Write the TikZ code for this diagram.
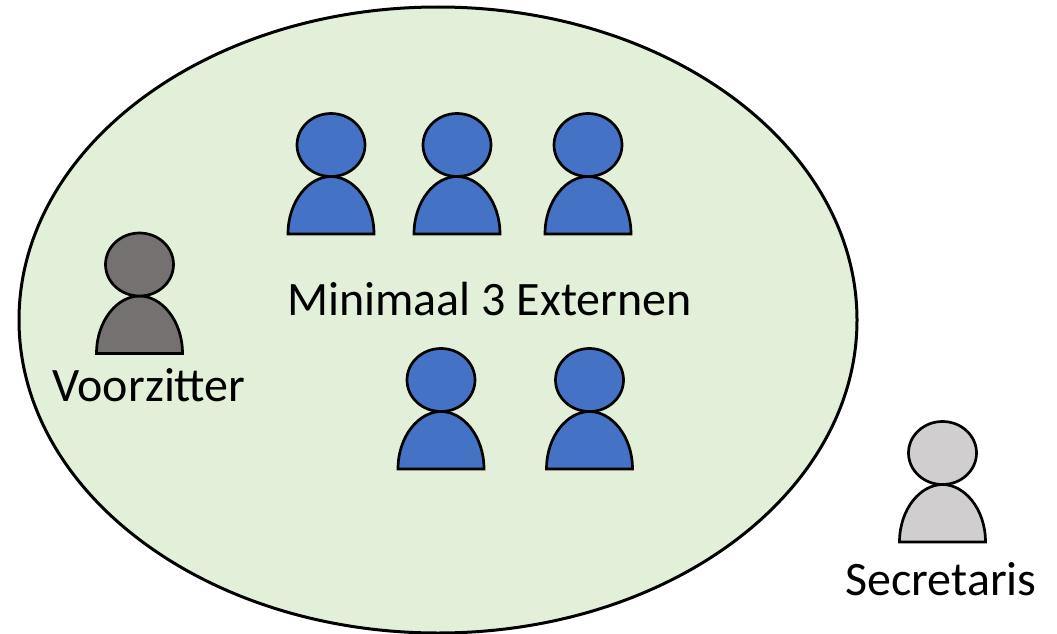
\documentclass[tikz,border=0pt]{standalone}
\usepackage{fontspec}
\usetikzlibrary{shapes.geometric}
\setmainfont{Carlito}
\definecolor{groen}{HTML}{E2F0D9}
\definecolor{blauw}{HTML}{4472C4}
\definecolor{donker}{HTML}{767171}
\definecolor{licht}{HTML}{D0CECE}
\tikzset{
  x=1pt,y=-1pt,
  persoon/.pic={
    \draw[pic actions,line width=2.7pt,line join=miter] (-43,0) .. controls (-43,-33) and (-22,-57.5) .. (0,-57.5) .. controls (22,-57.5) and (43,-33) .. (43,0) -- cycle;
    \draw[pic actions,line width=2.7pt] (0,-89) ellipse [x radius=34,y radius=31.5];
  },
  label text/.style={font=\fontsize{48}{58}\selectfont,text=black,inner sep=0pt,anchor=base},
  ext/.style={fill=blauw},
}
\begin{document}
\begin{tikzpicture}
\useasboundingbox (0,0) rectangle (1057,634);
\node[ellipse,draw=black,fill=groen,line width=3pt,minimum width=838pt,minimum height=626pt,inner sep=0pt] (veld) at (438,320) {};
\pic[ext] at (331,234) {persoon};
\pic[ext] at (457,234) {persoon};
\pic[ext] at (588,234) {persoon};
\pic[ext] at (441,469) {persoon};
\pic[ext] at (589.5,469) {persoon};
\pic[fill=donker] at (139.5,353.5) {persoon};
\pic[fill=licht] at (942.5,542) {persoon};
\node[label text] (ext) at (489.5,315) {Minimaal 3 Externen};
\node[label text] (vz) at (149,401) {Voorzitter};
\node[label text] (sec) at (941,595) {Secretaris};
\end{tikzpicture}
\end{document}
